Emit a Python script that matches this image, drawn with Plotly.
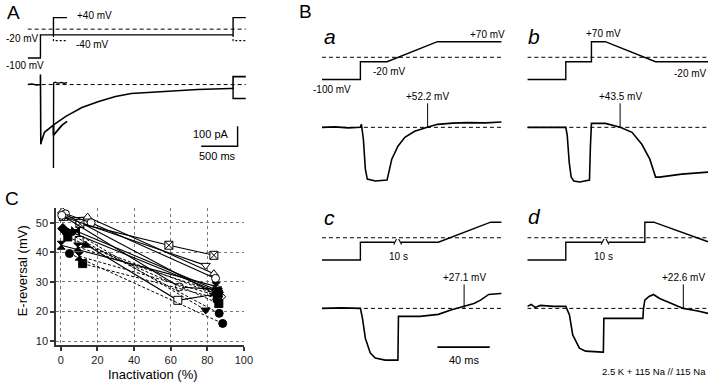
import plotly.graph_objects as go

W, H = 720, 385
FONT = "Liberation Sans, Arial, Helvetica, sans-serif"

# ---------------- Panel A (time in ms, voltage in mV, current in pA) ----------------
A_v_t = [0, 176, 176, 2824, 2824, 3000]
A_v_mv = [-100, -100, -20, -20, 40, 40]
A_v40_t = [355, 355, 542]
A_v40_mv = [-20, 40, 40]
A_vm40_t = [355, 355, 542]
A_vm40_mv = [-20, -40, -40]
A_vm40end_t = [2824, 2824, 3000]
A_vm40end_mv = [-20, -40, -40]
A_ref_t = [0, 3000]
A_ref_mv = [0, 0]

A_i_t = [0, 60, 120, 176, 176, 181, 186, 231, 366, 525, 746, 977, 1208, 1425, 1886, 2334, 2781, 2824, 2824, 3000]
A_i_pa = [0, 3, -2, 0, 50, -300, -290, -240, -200, -160, -115, -85, -60, -45, -35, -25, -20, -20, 40, 40]
A_i40_t = [355, 355, 357, 380, 420, 460, 500, 542]
A_i40_pa = [-205, -420, 8, 12, 6, 11, 7, 10]
A_im40_t = [355, 355, 400, 470, 542]
A_im40_pa = [-205, -255, -235, -205, -185]
A_itail_t = [2824, 2824, 3000]
A_itail_pa = [-20, -70, -70]
A_iref_t = [0, 3000]
A_iref_pa = [0, 0]
A_bar_ms = 500
A_bar_pa = 100

# ---------------- Panel B (time in ms, voltage in mV, current normalised) ----------------
Ba_v_t = [0, 29.4, 29.4, 49.8, 88.3, 137.4]
Ba_v_mv = [-100, -100, -20, -20, 70, 70]
Ba_i_t = [0, 10, 20, 29.4, 30.2, 31.7, 33.2, 34.7, 40.8, 49.8, 53.4, 58.1, 63.4, 70.9, 80.5, 88.3, 100, 111, 125, 137.4]
Ba_i = [0, 0.5, -0.5, 0, 3, -12, -42, -52, -54, -53, -32, -19, -10, -4, 0, 3, 4.2, 4.7, 4.5, 5.3]
Ba_rev_t = 80.8

Bb_v_t = [0, 29.4, 29.4, 49, 49, 59.6, 98, 138.1]
Bb_v_mv = [-100, -100, -20, -20, 70, 70, -20, -20]
Bb_i_t = [0, 15, 29.4, 30.5, 32, 33.5, 35.5, 40, 47.5, 48.2, 49, 59.6, 65, 71, 80, 87.5, 93.6, 98, 101, 118, 138.1]
Bb_i = [0, 0, 0, -8, -35, -50, -54, -55, -53, -20, 4, 4, 2, 0, -5, -17, -32, -50, -50, -47, -45]
Bb_rev_t = 70.9

Bc_v_t = [0, 29.4, 29.4, 55.5, None, 60.5, 89, 129, 137.4]
Bc_v_mv = [-100, -100, -20, -20, None, -20, -20, 70, 70]
Bc_brk_t = 58.1
Bc_i_t = [0, 15, 29.4, 31, 33.2, 37, 40.8, 48.3, 58.1, 58.5, 75, 89, 98.6, 108.7, 116.2, 121.3, 127.5, 136.4, 137.4]
Bc_i = [0, 0.5, 0, -10, -30, -45, -50, -52, -52, -8, -8, -6, -1.7, 1.7, 5, 8.3, 14, 15, 15]
Bc_rev_t = 108.7
Bc_bar_ms = 40

Bd_v_t = [0, 29.4, 29.4, 57, None, 62, 89.8, 89.8, 96.6, 138.1]
Bd_v_mv = [-100, -100, -20, -20, None, -20, -20, 70, 70, -18]
Bd_brk_t = 59.6
Bd_i_t = [0, 3, 6, 10, 20, 29.4, 32.2, 34.7, 39.8, 44.5, 57.4, 58.1, 58.5, 75, 88.3, 88.8, 89.8, 93, 96.4, 101.1, 110.2, 119.2, 130.3, 138.1]
Bd_i = [2, 4, 1, 3, 2, 2, -6.7, -26.7, -40, -43, -44, -44, -10, -10, -10, 0, 8.3, 12, 14, 10, 5, 0, -2.7, -5]
Bd_rev_t = 119.2

# ---------------- Panel C (inactivation %, E-reversal mV) ----------------
C_inact = [
    [1, 87.2], [1.5, 14.6, 83.6], [2.5, 16.5, 84.5], [10.4, 59, 83.6], [1.5, 79.1],
    [0.5, 64.8, 85], [10, 63.9, 86], [1.1, 86], [4.7, 88.4], [2.9, 86.5],
    [3.8, 86.3], [11.9, 85.5], [7, 79.1], [13.7, 84], [0.2, 84.8],
    [9.2, 86], [8, 85.4], [10, 85],
]
C_erev = [
    [53.3, 25], [51.5, 51.9, 32.8], [53, 50, 31.2], [49.7, 42.4, 39], [52, 35.6],
    [52.5, 28.3, 27.5], [44, 23.8, 26], [48, 26.5], [39.6, 16], [46.9, 19.4],
    [45.2, 22.7], [36.2, 24.5], [47, 20.5], [42.4, 26], [42.4, 28.5],
    [41.8, 26.5], [47.3, 27.2], [38.7, 25.5],
]
C_symbol = [
    "diamond", "triangle-up", "circle", "square-x", "triangle-down",
    "circle", "square", "diamond", "circle", "circle",
    "square", "square", "triangle-down", "triangle-up", "hourglass",
    "hourglass", "bowtie", "hourglass",
]
C_open = [True, True, True, True, True, True, True, False, False, False,
          False, False, False, False, False, False, False, False]
C_dashed = [False, False, False, False, False, False, False, False, True, True,
            True, True, True, True, False, True, False, True]
C_xticks = [0, 20, 40, 60, 80, 100]
C_yticks = [10, 20, 30, 40, 50]

fig = go.Figure()
lay = {}


def axes(n, xpx, ypx, xr, yr):
    xs = "x" if n == 1 else f"x{n}"
    ys = "y" if n == 1 else f"y{n}"
    lay["xaxis" if n == 1 else f"xaxis{n}"] = dict(
        domain=[xpx[0] / W, xpx[1] / W], range=xr, visible=False, anchor=ys, fixedrange=True)
    lay["yaxis" if n == 1 else f"yaxis{n}"] = dict(
        domain=[1 - ypx[1] / H, 1 - ypx[0] / H], range=yr, visible=False, anchor=xs, fixedrange=True)
    return xs, ys


def line(ax, x, y, width=1.3, dash="solid"):
    fig.add_trace(go.Scatter(x=x, y=y, mode="lines", xaxis=ax[0], yaxis=ax[1],
                             line=dict(color="black", width=width, dash=dash),
                             showlegend=False, hoverinfo="skip", connectgaps=False))


annots = []


def text(s, px, py, size=10, xanchor="center", italic=False, angle=0):
    annots.append(dict(text=s, x=px / W, y=1 - py / H, xref="paper", yref="paper",
                       showarrow=False, xanchor=xanchor, yanchor="middle", textangle=angle,
                       borderpad=0,
                       font=dict(family=FONT, size=size, color="black",
                                 style="italic" if italic else "normal")))


def arrow(ax, t, label):
    annots.append(dict(text=label, x=t, y=0, xref=ax[0], yref=ax[1], showarrow=True,
                       ax=0, ay=-31, arrowhead=0, arrowwidth=1, arrowcolor="black",
                       font=dict(family=FONT, size=10, color="black")))


DASH = "4px,3px"

# ---- Panel A ----
Av = axes(1, (28, 249), (14.8, 61.2), [0, 3000], [-110, 50])
Ai = axes(2, (28, 249), (71, 173), [0, 3000], [-440, 70])
line(Av, A_ref_t, A_ref_mv, 1, DASH)
line(Av, A_v_t, A_v_mv, 1.4)
line(Av, A_v40_t, A_v40_mv, 1.4)
line(Av, A_vm40_t, A_vm40_mv, 1.2, "2px,2px")
line(Av, A_vm40end_t, A_vm40end_mv, 1.2, "2px,2px")
line(Ai, A_iref_t, A_iref_pa, 1, DASH)
line(Ai, A_i_t, A_i_pa, 1.6)
line(Ai, A_i40_t, A_i40_pa, 1.4)
line(Ai, A_im40_t, A_im40_pa, 1.8)
line(Ai, A_itail_t, A_itail_pa, 1.4)
bar_t_end = 2886
bar_i_bot = -310
line(Ai, [bar_t_end - A_bar_ms, bar_t_end, bar_t_end], [bar_i_bot, bar_i_bot, bar_i_bot + A_bar_pa], 1.4)

text("A", 6, 13, 19, "left")
text("+40 mV", 77, 16, 10, "left")
text("-40 mV", 76, 45, 10, "left")
text("-20 mV", 5, 39, 10, "left")
text("-100 mV", 5, 66, 10, "left")
text("100 pA", 233, 135, 11, "right")
text("500 ms", 220, 157, 11, "center")

# ---- Panel B ----
VR = [-110, 80]
IR = [-60, 20]
av = axes(3, (326, 508), (39.7, 82.2), [0, 137.4], VR)
ai = axes(4, (326, 508), (108, 188), [0, 137.4], IR)
bv = axes(5, (534, 717), (39.7, 82.2), [0, 138.1], VR)
bi = axes(6, (534, 717), (108, 188), [0, 138.1], IR)
cv = axes(7, (326, 508), (221.1, 263.6), [0, 137.4], VR)
ci = axes(8, (326, 508), (290, 370), [0, 137.4], IR)
dv = axes(9, (534, 717), (221.1, 263.6), [0, 138.1], VR)
di = axes(10, (534, 717), (290, 370), [0, 138.1], IR)

for vax, iax, tmax in [(av, ai, 137.4), (bv, bi, 138.1), (cv, ci, 137.4), (dv, di, 138.1)]:
    line(vax, [0, tmax], [0, 0], 1, DASH)
    line(iax, [0, tmax], [0, 0], 1, DASH)

line(av, Ba_v_t, Ba_v_mv, 1.4)
line(ai, Ba_i_t, Ba_i, 1.6)
line(bv, Bb_v_t, Bb_v_mv, 1.4)
line(bi, Bb_i_t, Bb_i, 1.6)
line(cv, Bc_v_t, Bc_v_mv, 1.4)
line(ci, Bc_i_t, Bc_i, 1.6)
line(dv, Bd_v_t, Bd_v_mv, 1.4)
line(di, Bd_i_t, Bd_i, 1.6)
# break marks
for vax, bt in [(cv, Bc_brk_t), (dv, Bd_brk_t)]:
    line(vax, [bt - 3.2, bt - 1.0, None, bt + 0.6, bt + 2.8], [-30, -6, None, -6, -30], 1.1)
# 40 ms scale bar
line(ci, [88.3, 88.3 + Bc_bar_ms], [-39, -39], 1.8)

arrow(ai, Ba_rev_t, "+52.2 mV")
arrow(bi, Bb_rev_t, "+43.5 mV")
arrow(ci, Bc_rev_t, "+27.1 mV")
arrow(di, Bd_rev_t, "+22.6 mV")

text("B", 302, 12, 19, "left")
text("a", 327, 37, 21, "left", italic=True)
text("b", 534, 37, 21, "left", italic=True)
text("c", 327, 219, 21, "left", italic=True)
text("d", 534, 218, 21, "left", italic=True)
text("+70 mV", 512, 35, 10, "right")
text("-20 mV", 377, 72, 10, "left")
text("-100 mV", 316, 90, 10, "left")
text("+70 mV", 592, 34, 10, "left")
text("-20 mV", 717, 74, 10, "right")
text("10 s", 404, 258, 10, "center")
text("10 s", 611, 258, 10, "center")
text("40 ms", 470, 362, 11, "center")
text("2.5 K + 115 Na // 115 Na", 716, 373, 9.5, "right")

# ---- Panel C ----
for xs, ys, sym, op, dsh in zip(C_inact, C_erev, C_symbol, C_open, C_dashed):
    fig.add_trace(go.Scatter(
        x=xs, y=ys, mode="lines+markers", xaxis="x11", yaxis="y11",
        line=dict(color="black", width=1 if dsh else 1.1, dash="3px,2px" if dsh else "solid"),
        marker=dict(symbol=sym, size=8, color="white" if op else "black",
                    line=dict(color="black", width=1)),
        showlegend=False, hoverinfo="skip"))

lay["xaxis11"] = dict(domain=[57 / W, 247 / W], range=[-2.5, 100], anchor="y11",
                      showline=True, linewidth=2, linecolor="#333", ticks="outside", ticklen=4,
                      tickwidth=1.5, tickcolor="#333", tickvals=C_xticks, showgrid=True,
                      gridcolor="#777", griddash="dot", gridwidth=1, zeroline=False,
                      tickfont=dict(family=FONT, size=11, color="#222"), fixedrange=True)
lay["yaxis11"] = dict(domain=[1 - 346.7 / H, 1 - 209 / H], range=[8.75, 55], anchor="x11",
                      showline=True, linewidth=2, linecolor="#333", ticks="outside", ticklen=4,
                      tickwidth=1.5, tickcolor="#333", tickvals=C_yticks, showgrid=True,
                      gridcolor="#777", griddash="dot", gridwidth=1, zeroline=False,
                      tickfont=dict(family=FONT, size=11, color="#222"), fixedrange=True)

text("C", 4, 200, 19, "left")
text("E-reversal (mV)", 23, 272, 13, "center", angle=-90)
text("Inactivation (%)", 155, 376, 13, "center")

fig.update_layout(width=W, height=H, margin=dict(l=0, r=0, t=0, b=0),
                  paper_bgcolor="white", plot_bgcolor="white",
                  annotations=annots, showlegend=False, **lay)

fig.write_html("out.html", config={"displayModeBar": False},
               post_script="document.body.style.margin='0';document.body.style.padding='0';"
                           "document.body.style.overflow='hidden';")
